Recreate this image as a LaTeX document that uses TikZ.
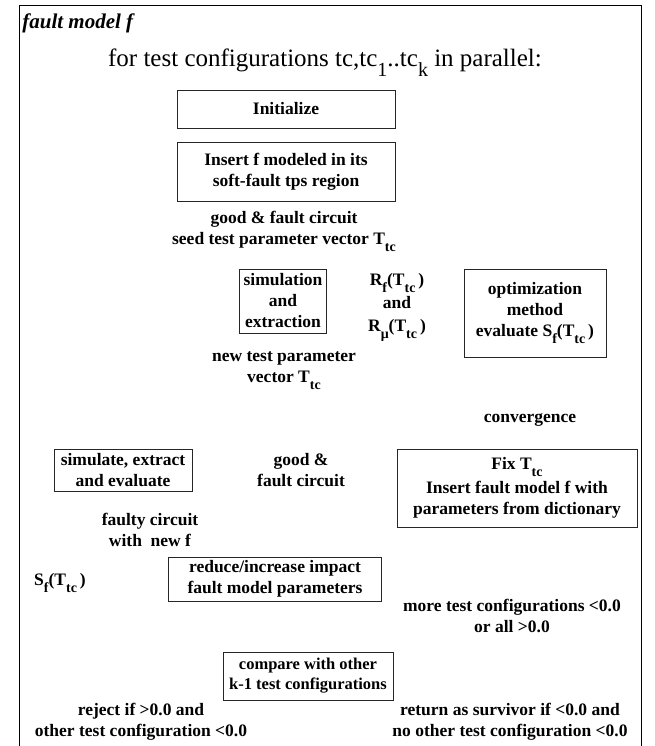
\documentclass[tikz,border=0pt]{standalone}
\usepackage{fontspec}
\setmainfont{Liberation Serif}
\usepackage{graphicx}
\newcommand{\sub}[1]{\raisebox{-.4em}{\scalebox{.8}{#1}}}
\begin{document}
\begin{tikzpicture}[x=1pt,y=-1pt,line width=.7pt,
  every node/.style={font=\fontsize{17.5}{21}\selectfont\bfseries,align=center,inner sep=0pt},
  box/.style 2 args={draw=black!85,minimum width=#1,minimum height=#2}]
\useasboundingbox (0,0) rectangle (655,746);
\coordinate (bl) at (19,746); \coordinate (tr) at (641,5); \coordinate (br) at (641,746);
\draw (bl) |- (tr) -- (br);
\node[anchor=west,font=\fontsize{21}{24}\selectfont\bfseries\itshape] (ttl) at (22,23) {fault model f};
\node[font=\fontsize{25}{28}\selectfont] (par) at (325,63) {for test configurations tc,tc\sub{1}..tc\sub{k} in parallel:};
\node[box={218}{38}] (init) at (286,109) {Initialize};
\node[box={218}{59}] (ins) at (286,172) {Insert f modeled in its\\soft-fault tps region};
\node (seed) at (284,231) {good \& fault circuit\\seed test parameter vector T\sub{tc}};
\node[box={87}{64}] (sim) at (283,301) {simulation\\and\\extraction};
\node (resp) at (397,307) {R\sub{f}(T\sub{tc}\,)\\[2pt]and\\[2pt]R\sub{μ}(T\sub{tc}\,)};
\node[box={142}{88}] (opt) at (535,313) {optimization\\method\\evaluate S\sub{f}(T\sub{tc}\,)};
\node (newT) at (284,371) {new test parameter\\vector T\sub{tc}};
\node (conv) at (530,420) {convergence};
\node[box={138}{42}] (simx) at (123,470) {simulate, extract\\and evaluate};
\node (gf) at (301,470) {good \&\\fault circuit};
\node[box={240}{78}] (fix) at (517,488) {Fix T\sub{tc}\\[3pt]Insert fault model f with\\parameters from dictionary};
\node (fty) at (150,530) {faulty circuit\\with\ \ new f};
\node (sf) at (60,583) {S\sub{f}(T\sub{tc}\,)};
\node[box={213}{44}] (red) at (275,579) {reduce/increase impact\\fault model parameters};
\node (more) at (512,616) {more test configurations <0.0\\or all >0.0};
\node[box={170}{48},font=\fontsize{16.5}{20}\selectfont\bfseries] (cmp) at (308,676) {compare with other\\k-1 test configurations};
\node (rej) at (141,722) {reject if >0.0 and\\other test configuration <0.0};
\node (ret) at (510,722) {return as survivor if <0.0 and\\no other test configuration <0.0};
\end{tikzpicture}
\end{document}
